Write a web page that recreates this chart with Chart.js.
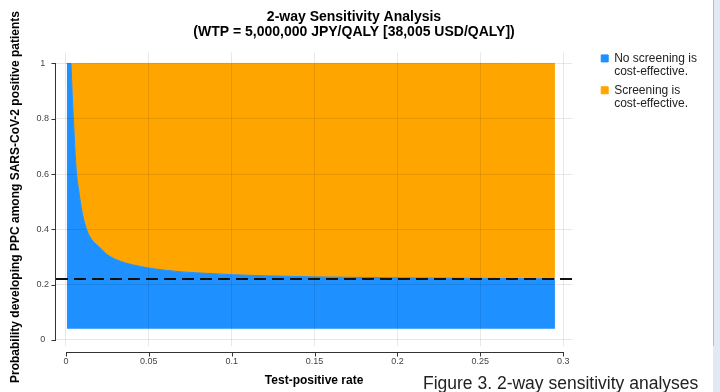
<!DOCTYPE html>
<html>
<head>
<meta charset="utf-8">
<script src="https://cdn.jsdelivr.net/npm/chart.js@4"></script>
<style>
  body { margin: 0; background: #fff; }
  #wrap { position: relative; width: 720px; height: 392px; overflow: hidden; }
  #strip { position: absolute; left: 713px; top: 0; width: 7px; height: 392px; background: #e3e9f4; }
  #stripEdge { position: absolute; left: 713px; top: 0; width: 1px; height: 346px; background: #a9bde2; }
</style>
</head>
<body>
<div id="wrap">
  <canvas id="myChart" width="720" height="392"></canvas>
  <div id="strip"></div>
  <div id="stripEdge"></div>
</div>
<script>
  // test-positive rate (x) and the boundary between the two regions (y)
  const rateX = [0.0005, 0.003, 0.0035, 0.004, 0.0044, 0.005, 0.0056, 0.0064, 0.0075, 0.0085,
    0.010, 0.0125, 0.015, 0.0175, 0.0205, 0.025, 0.0306, 0.035, 0.040, 0.050, 0.060, 0.070,
    0.081, 0.100, 0.120, 0.150, 0.180, 0.210, 0.240, 0.270, 0.295];
  const boundaryY = [1, 1, 0.93, 0.86, 0.81, 0.74, 0.67, 0.60, 0.55, 0.507,
    0.455, 0.399, 0.368, 0.35, 0.334, 0.308, 0.29, 0.28, 0.272, 0.260, 0.252, 0.246,
    0.242, 0.236, 0.232, 0.228, 0.226, 0.224, 0.223, 0.222, 0.221];
  const probFloor = 0.04;
  const probCeil = 1;
  const threshold = 0.22;

  const xTicks = [0, 0.05, 0.1, 0.15, 0.2, 0.25, 0.3];
  const yTicks = [0, 0.2, 0.4, 0.6, 0.8, 1];
  const xMin = -0.006, xMax = 0.3054;
  const yMin = -0.022, yMax = 1.04;

  const legendNo = ['No screening is', 'cost-effective.'];
  const legendYes = ['Screening is', 'cost-effective.'];
  const yTitle = 'Probability developing PPC among SARS-CoV-2 positive patients';
  const caption = 'Figure 3. 2-way sensitivity analyses';

  Chart.defaults.font.family = "'Liberation Sans', Arial, sans-serif";

  const fmt = v => String(Number(v.toFixed(3)));

  // axis lines, tick marks, rotated y title and the figure caption
  const extras = {
    id: 'extras',
    afterDraw(chart) {
      const { ctx, chartArea, scales: { x, y } } = chart;
      ctx.save();
      ctx.strokeStyle = '#333';
      ctx.lineWidth = 1;
      ctx.beginPath();
      const lx = chartArea.left - 0.5;
      ctx.moveTo(lx, Math.round(y.getPixelForValue(yTicks[yTicks.length - 1])));
      ctx.lineTo(lx, Math.round(y.getPixelForValue(yTicks[0])) + 1);
      yTicks.forEach(v => {
        const py = Math.round(y.getPixelForValue(v)) + 0.5;
        ctx.moveTo(lx - 4, py);
        ctx.lineTo(lx, py);
      });
      const ly = Math.round(chartArea.bottom) + 6.5;
      ctx.moveTo(Math.round(x.getPixelForValue(xTicks[0])), ly);
      ctx.lineTo(Math.round(x.getPixelForValue(xTicks[xTicks.length - 1])) + 1, ly);
      xTicks.forEach(v => {
        const px = Math.round(x.getPixelForValue(v)) + 0.5;
        ctx.moveTo(px, ly);
        ctx.lineTo(px, ly + 4);
      });
      ctx.stroke();

      ctx.fillStyle = '#000';
      ctx.font = "bold 12px 'Liberation Sans', Arial, sans-serif";
      ctx.textAlign = 'center';
      ctx.textBaseline = 'middle';
      ctx.translate(16, 197);
      ctx.rotate(-Math.PI / 2);
      ctx.fillText(yTitle, 0, 0);
      ctx.restore();

      ctx.save();
      ctx.fillStyle = '#222';
      ctx.font = "17.5px 'Liberation Sans', Arial, sans-serif";
      ctx.textAlign = 'left';
      ctx.textBaseline = 'alphabetic';
      ctx.fillText(caption, 423, 389);
      ctx.restore();
    }
  };

  const data = {
    datasets: [
      {
        label: '',
        data: [{ x: xMin, y: threshold }, { x: xMax, y: threshold }],
        borderColor: '#111',
        borderWidth: 2,
        borderDash: [12, 6],
        pointRadius: 0,
        fill: false
      },
      {
        label: legendNo,
        data: rateX.map((x, i) => ({ x: x, y: boundaryY[i] })),
        backgroundColor: '#1e90ff',
        borderColor: '#1e90ff',
        borderWidth: 1,
        pointRadius: 0,
        cubicInterpolationMode: 'monotone',
        fill: { value: probFloor }
      },
      {
        label: legendYes,
        data: rateX.map(x => ({ x: x, y: probCeil })),
        backgroundColor: '#ffa500',
        borderColor: '#ffa500',
        borderWidth: 1,
        pointRadius: 0,
        fill: '-1'
      }
    ]
  };

  const config = {
    type: 'line',
    data: data,
    plugins: [extras],
    options: {
      responsive: false,
      animation: false,
      layout: { padding: { left: 10, right: 22, top: 0, bottom: 0 } },
      plugins: {
        title: {
          display: true,
          text: ['2-way Sensitivity Analysis', '(WTP = 5,000,000 JPY/QALY [38,005 USD/QALY])'],
          color: '#000',
          font: { size: 14, weight: 'bold', lineHeight: 1.05 },
          padding: { top: 10, bottom: 13 }
        },
        legend: {
          position: 'right',
          align: 'start',
          fullSize: false,
          title: { display: true, text: '', font: { size: 1, lineHeight: 1 }, padding: { top: 0, bottom: -6 } },
          labels: {
            filter: item => item.datasetIndex > 0,
            boxWidth: 7,
            boxHeight: 7,
            padding: 5,
            color: '#222',
            font: { size: 12, lineHeight: 1.12 }
          }
        },
        tooltip: { enabled: false }
      },
      scales: {
        x: {
          type: 'linear',
          min: xMin,
          max: xMax,
          afterBuildTicks: s => { s.ticks = xTicks.map(v => ({ value: v })); },
          afterFit: s => { s.height = 46; },
          ticks: { color: '#444', font: { size: 9 }, padding: 10, maxRotation: 0, callback: fmt },
          grid: { color: 'rgba(0,0,0,0.09)', drawTicks: false, z: 1 },
          border: { display: false },
          title: {
            display: true,
            text: 'Test-positive rate',
            color: '#000',
            font: { size: 12, weight: 'bold', lineHeight: 1.15 },
            padding: { top: 4, bottom: 4 }
          }
        },
        y: {
          type: 'linear',
          min: yMin,
          max: yMax,
          afterBuildTicks: s => { s.ticks = yTicks.map(v => ({ value: v })); },
          afterFit: s => { s.width = 46; },
          ticks: { color: '#444', font: { size: 9 }, padding: 7, crossAlign: 'center', callback: fmt },
          grid: { color: 'rgba(0,0,0,0.09)', drawTicks: false, z: 1 },
          border: { display: false }
        },
        yR: {
          type: 'linear',
          position: 'right',
          grid: { display: false },
          ticks: { display: false },
          border: { display: false },
          afterFit: s => { s.width = 24; }
        }
      }
    }
  };

  const myChart = new Chart(
    document.getElementById('myChart'),
    config
  );
</script>
</body>
</html>
